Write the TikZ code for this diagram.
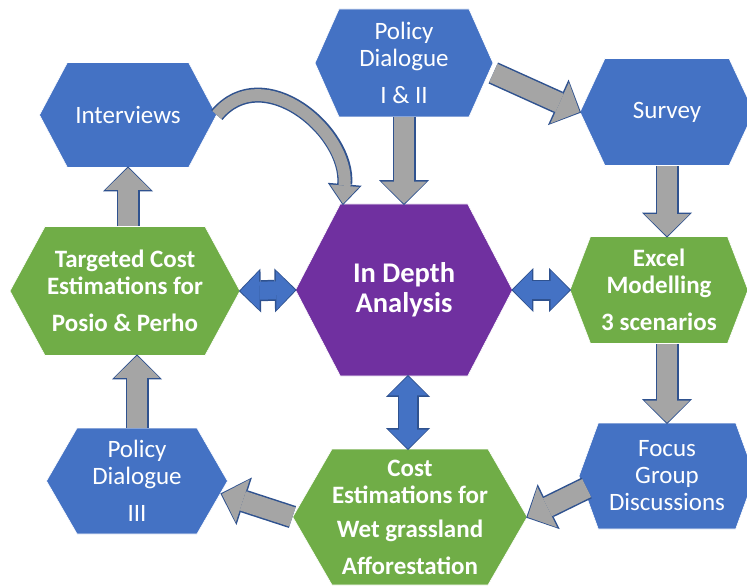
\documentclass[tikz,border=0pt]{standalone}
\usepackage{fontspec}
\setmainfont{Carlito}
\usetikzlibrary{shapes.symbols,arrows.meta}
\definecolor{hexblue}{HTML}{4472C4}
\definecolor{hexgreen}{HTML}{70AD47}
\definecolor{hexpurple}{HTML}{7030A0}
\definecolor{flowgray}{HTML}{A5A5A5}
\definecolor{edgeblue}{HTML}{2F528F}

\begin{document}
\begin{tikzpicture}[x=1pt,y=1pt,
	every node/.style = {signal, signal to=east and west, draw=white, line width=.6pt, text=white, align=center, inner sep=0pt},
	blueHex/.style = {fill=hexblue, font=\fontsize{25}{27}\selectfont},
	greenHex/.style = {fill=hexgreen, font=\bfseries\fontsize{25}{27}\selectfont},
	centreHex/.style = {fill=hexpurple, font=\bfseries\fontsize{28.5}{30}\selectfont},
	flow/.style = {draw=flowgray, line width=20pt, -{Triangle[width=45pt,length=22pt,line width=0pt]},
	  preaction={draw=edgeblue, line width=23pt, -{Triangle[width=50pt,length=25pt,line width=0pt]}, shorten >=-1.5pt}},
	flowBent/.style = {draw=flowgray, line width=12pt, -{Triangle[width=29pt,length=18pt,line width=0pt]},
	  preaction={draw=edgeblue, line width=15pt, -{Triangle[width=34pt,length=21pt,line width=0pt]}, shorten >=-1.5pt}},
	link/.style = {draw=hexblue, line width=18pt, {Triangle[width=39pt,length=19pt,line width=0pt]}-{Triangle[width=39pt,length=19pt,line width=0pt]},
	  preaction={draw=edgeblue, line width=21pt, {Triangle[width=44pt,length=22pt,line width=0pt]}-{Triangle[width=44pt,length=22pt,line width=0pt]}, shorten >=-1.5pt, shorten <=-1.5pt}}
	]
  \useasboundingbox (0,0) rectangle (747,-588);

  \node [blueHex, minimum width=177pt, minimum height=105pt, signal pointer angle=124] (interviews) at (128,-115) {Interviews};
  \node [blueHex, minimum width=178pt, minimum height=108pt, signal pointer angle=132] (dialogueOne) at (404,-63) {Policy\\Dialogue\\[10pt]I \& II};
  \node [blueHex, minimum width=174pt, minimum height=107pt, signal pointer angle=130] (survey) at (667,-112) {Survey};
  \node [greenHex, minimum width=230pt, minimum height=129pt, signal pointer angle=123] (targeted) at (125,-291) {Targeted Cost\\Estimations for\\[10pt]Posio \& Perho};
  \node [centreHex, minimum width=217pt, minimum height=172pt, signal pointer angle=125] (analysis) at (404,-290) {In Depth\\Analysis};
  \node [greenHex, minimum width=178pt, minimum height=107pt, signal pointer angle=138] (excel) at (659,-290) {Excel\\Modelling\\[10pt]3 scenarios};
  \node [blueHex, minimum width=181pt, minimum height=106pt, signal pointer angle=120] (dialogueThree) at (137,-481) {Policy\\Dialogue\\[10pt]III};
  \node [blueHex, minimum width=176pt, minimum height=106pt, signal pointer angle=140] (focus) at (667,-476) {Focus\\Group\\Discussions};
  \node [greenHex, minimum width=233pt, minimum height=136pt, signal pointer angle=120] (cost) at (410,-517) {Cost\\Estimations for\\[7pt]Wet grassland\\[10pt]Afforestation};

  \draw [flow] (interviews.south |- targeted.north) -- (interviews.south);
  \draw [flow] (dialogueThree.north) -- (dialogueThree.north |- targeted.south);
  \draw [flow] (dialogueOne.south) -- (analysis.north);
  \draw [flow] ([yshift=-10pt]dialogueOne.east) -- (survey.west);
  \draw [flow] (survey.south) -- (survey.south |- excel.north);
  \draw [flow] (focus.north |- excel.south) -- (focus.north);
  \draw [flow] ([xshift=8pt,yshift=-12pt]focus.west) -- (cost.east);
  \draw [flow] (cost.west) -- ([xshift=-6pt,yshift=-13pt]dialogueThree.east);
  \draw [flowBent] (interviews.east) to[out=50,in=85,looseness=1.2] ([xshift=-61pt]analysis.north);
  \draw [link] (targeted.east) -- (analysis.west);
  \draw [link] (analysis.east) -- (excel.west);
  \draw [link] ([xshift=4pt]analysis.south) -- ([xshift=4pt]analysis.south |- cost.north);
\end{tikzpicture}
\end{document}
